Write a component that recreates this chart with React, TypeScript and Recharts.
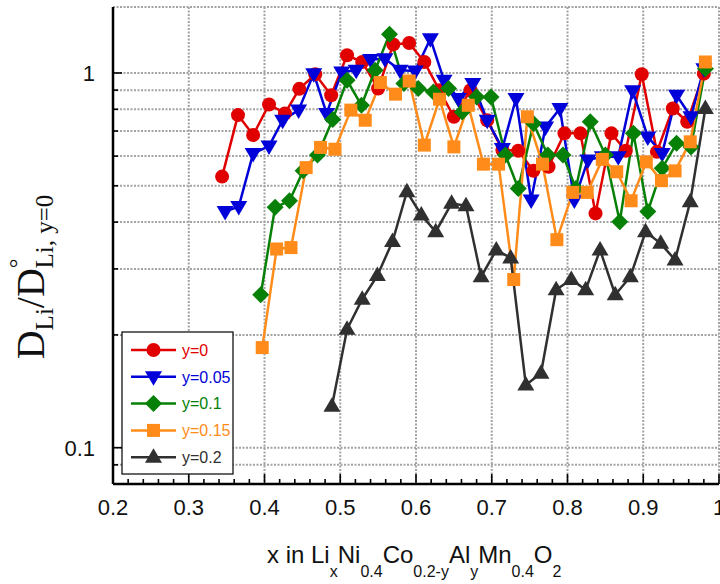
import React from 'react';
import { LineChart, Line, XAxis, YAxis, CartesianGrid } from 'recharts';

// y = 0
const xY0 = [0.344, 0.365, 0.385, 0.406, 0.427, 0.446, 0.467, 0.488, 0.509, 0.529, 0.550, 0.570, 0.591, 0.611, 0.631, 0.650,
    0.672, 0.694, 0.714, 0.735, 0.755, 0.775, 0.796, 0.817, 0.837, 0.858, 0.877, 0.898, 0.918, 0.939, 0.958, 0.980];
const dY0 = [0.529, 0.772, 0.683, 0.824, 0.780, 0.907, 0.992, 0.872, 1.115, 1.07, 0.909, 1.192, 1.202, 1.07, 0.899, 0.764,
    0.899, 0.748, 0.623, 0.620, 0.548, 0.562, 0.690, 0.690, 0.422, 0.690, 0.620, 0.992, 0.616, 0.804, 0.741, 0.996];

// y = 0.05
const xY005 = [0.348, 0.366, 0.385, 0.406, 0.424, 0.445, 0.465, 0.482, 0.502, 0.521, 0.540, 0.559, 0.579, 0.599, 0.619, 0.637,
    0.656, 0.675, 0.694, 0.714, 0.732, 0.752, 0.771, 0.790, 0.809, 0.827, 0.846, 0.867, 0.886, 0.906, 0.925, 0.944, 0.963, 0.980];
const dY005 = [0.427, 0.440, 0.610, 0.638, 0.748, 0.796, 0.996, 0.780, 1.006, 1.017, 1.086, 1.092, 1.017, 1.012, 1.235, 0.956,
    0.855, 0.937, 0.748, 0.629, 0.855, 0.458, 0.718, 0.804, 0.458, 0.586, 0.598, 0.598, 0.896, 0.675, 0.610, 0.872, 0.764, 1.027];

// y = 0.1
const xY01 = [0.395, 0.414, 0.433, 0.451, 0.470, 0.490, 0.509, 0.528, 0.546, 0.565, 0.584, 0.603, 0.623, 0.643, 0.661, 0.680,
    0.699, 0.718, 0.735, 0.755, 0.774, 0.794, 0.811, 0.830, 0.850, 0.869, 0.887, 0.906, 0.925, 0.944, 0.963, 0.982];
const dY01 = [0.256, 0.438, 0.456, 0.548, 0.604, 0.751, 0.956, 0.820, 1.017, 1.268, 0.937, 0.909, 0.890, 0.909, 0.787, 0.863,
    0.863, 0.604, 0.492, 0.733, 0.604, 0.604, 0.492, 0.741, 0.604, 0.401, 0.690, 0.427, 0.557, 0.649, 0.635, 1.027];

// y = 0.15
const xY015 = [0.397, 0.416, 0.435, 0.455, 0.474, 0.493, 0.514, 0.533, 0.553, 0.573, 0.591, 0.611, 0.631, 0.650, 0.669, 0.689,
    0.709, 0.729, 0.747, 0.767, 0.786, 0.807, 0.826, 0.846, 0.865, 0.884, 0.904, 0.924, 0.942, 0.962, 0.982];
const dY015 = [0.185, 0.339, 0.342, 0.559, 0.633, 0.626, 0.796, 0.748, 0.943, 0.878, 0.952, 0.642, 0.851, 0.635, 0.820, 0.571,
    0.571, 0.281, 0.764, 0.571, 0.359, 0.480, 0.480, 0.588, 0.545, 0.456, 0.579, 0.516, 0.548, 0.655, 1.07];

// y = 0.2
const xY02 = [0.489, 0.509, 0.529, 0.549, 0.569, 0.588, 0.607, 0.626, 0.647, 0.666, 0.686, 0.706, 0.725, 0.745, 0.765, 0.785,
    0.805, 0.824, 0.843, 0.863, 0.883, 0.903, 0.923, 0.942, 0.962, 0.982];
const dY02 = [0.129, 0.207, 0.249, 0.288, 0.355, 0.482, 0.418, 0.377, 0.449, 0.442, 0.286, 0.337, 0.321, 0.147, 0.158, 0.264,
    0.281, 0.264, 0.337, 0.256, 0.286, 0.377, 0.351, 0.317, 0.453, 0.804];

const xTicks = [0.2, 0.3, 0.4, 0.5, 0.6, 0.7, 0.8, 0.9, 1.0];
const xMinorTicks = [0.2, 0.22, 0.24, 0.26, 0.28, 0.3, 0.32, 0.34, 0.36, 0.38, 0.4, 0.42, 0.44, 0.46, 0.48, 0.5, 0.52, 0.54,
    0.56, 0.58, 0.6, 0.62, 0.64, 0.66, 0.68, 0.7, 0.72, 0.74, 0.76, 0.78, 0.8, 0.82, 0.84, 0.86, 0.88, 0.9, 0.92, 0.94, 0.96, 0.98, 1.0];
const yTicks = [0.09, 0.1, 0.2, 0.3, 0.4, 0.5, 0.6, 0.7, 0.8, 0.9, 1];
const yLabelled = [0.1, 1];

const pairs = (xs: number[], ys: number[]) => xs.map((x, i) => ({ x, v: ys[i] }));

const series = [
    { name: 'y=0', color: '#E00000', shape: 'circle', data: pairs(xY0, dY0) },
    { name: 'y=0.05', color: '#0000D8', shape: 'down', data: pairs(xY005, dY005) },
    { name: 'y=0.1', color: '#078007', shape: 'diamond', data: pairs(xY01, dY01) },
    { name: 'y=0.15', color: '#FF8C1A', shape: 'square', data: pairs(xY015, dY015) },
    { name: 'y=0.2', color: '#303030', shape: 'up', data: pairs(xY02, dY02) },
];

const SANS = '"Liberation Sans", Arial, sans-serif';
const SERIF = '"Liberation Serif", "Times New Roman", serif';

const Marker = ({ shape, color, cx, cy }: any) => {
    if (shape === 'circle') return <circle cx={cx} cy={cy} r={7} fill={color} />;
    if (shape === 'down') return <polygon points={`${cx - 8.5},${cy - 5.5} ${cx + 8.5},${cy - 5.5} ${cx},${cy + 9}`} fill={color} />;
    if (shape === 'diamond') return <polygon points={`${cx},${cy - 8.5} ${cx + 8.5},${cy} ${cx},${cy + 8.5} ${cx - 8.5},${cy}`} fill={color} />;
    if (shape === 'square') return <rect x={cx - 6.5} y={cy - 6.5} width={13} height={13} fill={color} />;
    return <polygon points={`${cx - 8.5},${cy + 5.5} ${cx + 8.5},${cy + 5.5} ${cx},${cy - 9}`} fill={color} />;
};

const dotFor = (shape: string, color: string) => (p: any) => {
    if (p.cx == null || p.cy == null) return <g key={p.index} />;
    return <Marker key={p.index} shape={shape} color={color} cx={p.cx} cy={p.cy} />;
};

const isMajorX = (v: number) => xTicks.some(t => Math.abs(t - v) < 1e-6);
const fmtX = (v: number) => (Math.abs(v - 1) < 1e-6 ? '1' : v.toFixed(1));

const BottomTick = ({ x, y, payload }: any) => {
    const major = isMajorX(payload.value);
    return (
        <g>
            <line x1={x} x2={x} y1={y} y2={y - (major ? 10 : 5)} stroke="#000" strokeWidth={1.6} />
            {major && (
                <text x={x} y={y + 31} textAnchor="middle" fontSize={22} fontFamily={SANS} fill="#111">{fmtX(payload.value)}</text>
            )}
        </g>
    );
};

const TopTick = ({ x, y, payload }: any) => {
    const major = isMajorX(payload.value);
    return <line x1={x} x2={x} y1={y} y2={y + (major ? 10 : 5)} stroke="#000" strokeWidth={1.6} />;
};

const LeftTick = ({ x, y, payload }: any) => {
    const major = yLabelled.includes(payload.value);
    return (
        <g>
            <line x1={x} x2={x + (major ? 9 : 5)} y1={y} y2={y} stroke="#000" strokeWidth={1.6} />
            {major && (
                <text x={x - 18} y={y} dy="0.36em" textAnchor="end" fontSize={22} fontFamily={SANS} fill="#111">{payload.value}</text>
            )}
        </g>
    );
};

const RightTick = ({ x, y, payload }: any) => {
    const major = yLabelled.includes(payload.value);
    return <line x1={x} x2={x - (major ? 9 : 5)} y1={y} y2={y} stroke="#000" strokeWidth={1.6} />;
};

const axisLine = { stroke: '#000', strokeWidth: 2.5 };

export default function App() {
    return (
        <div style={{ position: 'absolute', left: 0, top: 0, width: 720, height: 584, background: '#fff' }}>
            <LineChart width={720} height={584} margin={{ top: 7, right: 1, bottom: 0, left: 0 }}>
                <XAxis xAxisId="g" type="number" dataKey="x" domain={[0.2, 1]} ticks={xTicks} allowDataOverflow hide />
                <CartesianGrid xAxisId="g" yAxisId="l" stroke="#a3a3a3" strokeWidth={2} strokeDasharray="2 1.5" />
                <XAxis xAxisId="b" type="number" dataKey="x" domain={[0.2, 1]} ticks={xMinorTicks} interval={0}
                    allowDataOverflow height={100} tickSize={0} tickMargin={0} tickLine={false}
                    axisLine={axisLine} tick={<BottomTick />} />
                <XAxis xAxisId="t" orientation="top" type="number" dataKey="x" domain={[0.2, 1]} ticks={xMinorTicks} interval={0}
                    allowDataOverflow height={0} tickSize={0} tickMargin={0} tickLine={false}
                    axisLine={axisLine} tick={<TopTick />} />
                <YAxis yAxisId="l" type="number" scale="log" domain={[0.08, 1.5]} ticks={yTicks} interval={0}
                    allowDataOverflow width={113} tickSize={0} tickMargin={0} tickLine={false}
                    axisLine={axisLine} tick={<LeftTick />} />
                <YAxis yAxisId="r" orientation="right" type="number" scale="log" domain={[0.08, 1.5]} ticks={yTicks} interval={0}
                    allowDataOverflow width={0} tickSize={0} tickMargin={0} tickLine={false}
                    axisLine={axisLine} tick={<RightTick />} />
                {series.map(s => (
                    <Line key={s.name} data={s.data} dataKey="v" xAxisId="b" yAxisId="l" type="linear"
                        stroke={s.color} strokeWidth={2.5} dot={dotFor(s.shape, s.color)} activeDot={false}
                        isAnimationActive={false} />
                ))}
            </LineChart>
            <svg width={720} height={584} style={{ position: 'absolute', left: 0, top: 0, pointerEvents: 'none' }}>
                <rect x={122} y={332} width={111} height={142} fill="#fff" stroke="#000" strokeWidth={1.2} />
                {series.map((s, i) => {
                    const cy = 350 + i * 26.8;
                    return (
                        <g key={s.name}>
                            <line x1={131} x2={176} y1={cy} y2={cy} stroke={s.color} strokeWidth={2.5} />
                            <Marker shape={s.shape} color={s.color} cx={153.5} cy={cy} />
                            <text x={182} y={cy} dy="0.36em" fontSize={16} fontFamily={SANS} fill={s.color}>{s.name}</text>
                        </g>
                    );
                })}
                <text x={267} y={563} fontSize={24} fontFamily={SANS} fill="#111">
                    x in Li<tspan fontSize={16} dy={14}>x</tspan>
                    <tspan dy={-14}>Ni</tspan><tspan fontSize={16} dy={14}>0.4</tspan>
                    <tspan dy={-14}>Co</tspan><tspan fontSize={16} dy={14}>0.2-y</tspan>
                    <tspan dy={-14}>Al</tspan><tspan fontSize={16} dy={14}>y</tspan>
                    <tspan dy={-14}>Mn</tspan><tspan fontSize={16} dy={14}>0.4</tspan>
                    <tspan dy={-14}>O</tspan><tspan fontSize={16} dy={14}>2</tspan>
                </text>
                <text transform="translate(44,277) rotate(-90)" textAnchor="middle" fontSize={40} fontFamily={SERIF} fill="#111">
                    D<tspan fontSize={25} dy={9}>Li</tspan>
                    <tspan dy={-9}>/D</tspan><tspan fontSize={24} dy={-18}>°</tspan>
                    <tspan fontSize={25} dx={-10} dy={27}>Li, y=0</tspan>
                </text>
            </svg>
        </div>
    );
}
